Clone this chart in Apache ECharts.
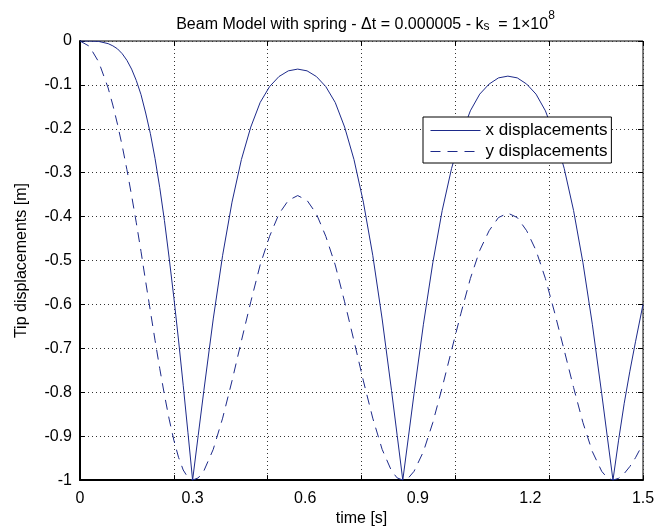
<!DOCTYPE html>
<html><head><meta charset="utf-8">
<script src="https://cdn.jsdelivr.net/npm/echarts@6/dist/echarts.min.js"></script>
<style>html,body{margin:0;padding:0;background:#fff}#c{width:670px;height:532px}</style>
</head><body><div id="c"></div>
<script>
// ---- data ----
const timeS = [0,0.025,0.05,0.075,0.0875,0.1,0.1125,0.125,0.1375,0.15,0.1625,0.175,0.1875,0.2,0.2125,0.225,0.2375,0.25,0.2625,0.275,0.2875,0.3,
  0.315,0.33,0.355,0.38,0.405,0.43,0.455,0.48,0.505,0.53,0.555,0.58,0.605,0.63,0.655,0.68,0.705,0.73,0.755,0.78,0.805,0.83,0.845,0.86,
  0.875,0.89,0.915,0.94,0.965,0.99,1.015,1.04,1.065,1.09,1.115,1.14,1.165,1.19,1.215,1.24,1.265,1.29,1.315,1.34,1.365,1.39,1.405,1.42,
  1.435,1.45,1.465,1.48,1.5];
const xDisp = [0,-0.0001,-0.001,-0.006,-0.011,-0.018,-0.029,-0.044,-0.064,-0.09,-0.122,-0.164,-0.211,-0.268,-0.334,-0.409,-0.494,-0.584,-0.681,-0.784,-0.891,-1,
  -0.898,-0.796,-0.633,-0.488,-0.367,-0.27,-0.196,-0.14,-0.104,-0.081,-0.068,-0.064,-0.068,-0.081,-0.104,-0.14,-0.196,-0.27,-0.367,-0.488,-0.633,-0.796,-0.898,-1,
  -0.902,-0.803,-0.645,-0.505,-0.386,-0.29,-0.216,-0.159,-0.121,-0.098,-0.084,-0.08,-0.084,-0.098,-0.121,-0.159,-0.216,-0.29,-0.386,-0.505,-0.645,-0.803,-0.902,-1,
  -0.909,-0.825,-0.752,-0.685,-0.6];
const yDisp = [0,-0.012,-0.048,-0.107,-0.146,-0.19,-0.239,-0.293,-0.352,-0.414,-0.479,-0.548,-0.615,-0.682,-0.746,-0.806,-0.861,-0.909,-0.948,-0.977,-0.994,-1,
  -0.995,-0.979,-0.93,-0.859,-0.774,-0.683,-0.594,-0.51,-0.445,-0.394,-0.363,-0.352,-0.363,-0.394,-0.445,-0.51,-0.594,-0.683,-0.774,-0.859,-0.93,-0.979,-0.995,-1,
  -0.995,-0.98,-0.935,-0.869,-0.789,-0.704,-0.62,-0.541,-0.477,-0.432,-0.402,-0.392,-0.402,-0.432,-0.477,-0.541,-0.62,-0.704,-0.789,-0.869,-0.935,-0.98,-0.995,-1,
  -0.996,-0.985,-0.969,-0.949,-0.917];
const seriesNames = ['x displacements', 'y displacements'];
const xLabelStep = 0.3, xGridStep = 0.25, xMin = 0, xMax = 1.5;
const yMin = -1, yMax = 0, yStep = 0.1;
const titleMain = 'Beam Model with spring - \u0394t = 0.000005 - k';
const titleSub = 's';
const titleMid = '  = 1\u00D710';
const titleSup = '8';
const xName = 'time [s]';
const yName = 'Tip displacements [m]';

// ---- styling ----
const FONT = '"Liberation Sans", Arial, Helvetica, sans-serif';
const BLUE = '#1d2a8a';
const GL = {left: 80, right: 27, top: 41, bottom: 50};

const ctx = document.createElement('canvas').getContext('2d');
function tw(t, size) { ctx.font = size + 'px ' + FONT; return ctx.measureText(t).width; }
const TS = 16, SS = 12;
const wMain = tw(titleMain, TS), wSub = tw(titleSub, SS), wMid = tw(titleMid, TS), wSup = tw(titleSup, SS);
const wTot = wMain + wSub + wMid + wSup;
const cx = GL.left + (670 - GL.left - GL.right) / 2 + 4;
let x0 = cx - wTot / 2;
const base = 17;
function txt(t, x, y, size) {
  return {type: 'text', x: x, y: y, silent: true,
    style: {text: t, font: size + 'px ' + FONT, fill: '#000', textAlign: 'left', textVerticalAlign: 'alphabetic', verticalAlign: 'alphabetic'}};
}
const graphic = [
  txt(titleMain, x0, base, TS),
  txt(titleSub, x0 + wMain, base + 3.5, SS),
  txt(titleMid, x0 + wMain + wSub, base, TS),
  txt(titleSup, x0 + wMain + wSub + wMid, base - 7, SS)
];

const dotted = {color: '#333', width: 1, type: [1, 3]};
const tickStyle = {color: '#000', width: 1};
const labelStyle = {color: '#000', fontSize: 16, fontFamily: FONT};

const chart = echarts.init(document.getElementById('c'), null, {renderer: 'canvas'});
chart.setOption({
  animation: false,
  backgroundColor: '#fff',
  grid: Object.assign({show: true, borderColor: '#000', borderWidth: 1, backgroundColor: 'transparent', containLabel: false}, GL),
  graphic: graphic,
  legend: {
    show: true, orient: 'vertical', left: 423, top: 117,
    itemWidth: 50, itemHeight: 14, itemGap: 4,
    padding: [5, 4, 3, 7],
    backgroundColor: '#fff', borderColor: '#000', borderWidth: 1, borderRadius: 0,
    itemStyle: {opacity: 0},
    lineStyle: {width: 1},
    textStyle: {fontSize: 17, color: '#000', fontFamily: FONT},
    data: seriesNames
  },
  xAxis: [
    {type: 'value', min: xMin, max: xMax, interval: xLabelStep, position: 'bottom',
     axisLine: {onZero: false, lineStyle: {color: '#000', width: 2}},
     axisTick: {show: false}, splitLine: {show: false},
     axisLabel: Object.assign({margin: 10}, labelStyle),
     name: xName, nameLocation: 'middle', nameGap: 27, nameTextStyle: labelStyle},
    {type: 'value', min: xMin, max: xMax, interval: xGridStep, position: 'bottom',
     axisLine: {show: false, onZero: false},
     axisTick: {show: true, inside: true, length: 5, lineStyle: tickStyle},
     axisLabel: {show: false}, splitLine: {show: true, lineStyle: dotted}},
    {type: 'value', min: xMin, max: xMax, interval: xGridStep, position: 'top',
     axisLine: {show: false, onZero: false},
     axisTick: {show: true, inside: true, length: 5, lineStyle: tickStyle},
     axisLabel: {show: false}, splitLine: {show: false}}
  ],
  yAxis: [
    {type: 'value', min: yMin, max: yMax, interval: yStep, position: 'left',
     axisLine: {onZero: false, lineStyle: {color: '#000', width: 2}},
     axisTick: {show: true, inside: true, length: 5, lineStyle: tickStyle},
     axisLabel: Object.assign({margin: 8}, labelStyle),
     splitLine: {show: true, lineStyle: dotted},
     name: yName, nameLocation: 'middle', nameGap: 50, nameRotate: 90, nameTextStyle: labelStyle},
    {type: 'value', min: yMin, max: yMax, interval: yStep, position: 'right',
     axisLine: {show: false, onZero: false},
     axisTick: {show: true, inside: true, length: 5, lineStyle: tickStyle},
     axisLabel: {show: false}, splitLine: {show: false}}
  ],
  series: [
    {name: seriesNames[0], type: 'line', xAxisIndex: 0, yAxisIndex: 0, symbol: 'none', showSymbol: false,
     data: timeS.map((t, i) => [t, xDisp[i]]),
     lineStyle: {color: BLUE, width: 1, type: 'solid'}, itemStyle: {color: BLUE}},
    {name: seriesNames[1], type: 'line', xAxisIndex: 0, yAxisIndex: 0, symbol: 'none', showSymbol: false,
     data: timeS.map((t, i) => [t, yDisp[i]]),
     lineStyle: {color: BLUE, width: 1, type: [10, 7]}, itemStyle: {color: BLUE}}
  ]
});
</script></body></html>
